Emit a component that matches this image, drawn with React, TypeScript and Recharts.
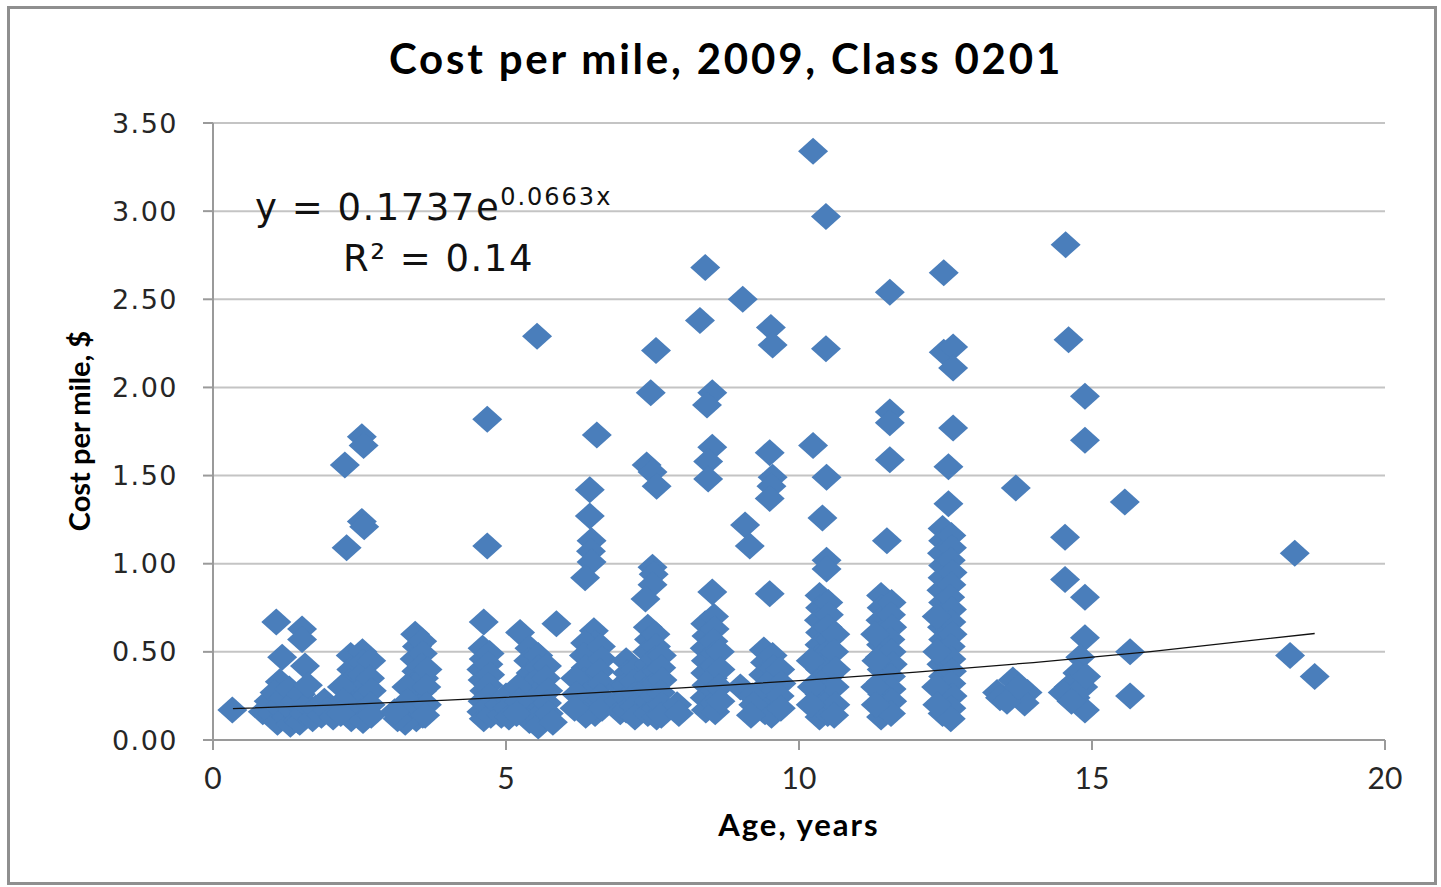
import React from 'react';
import { ScatterChart, Scatter, XAxis, YAxis, CartesianGrid } from 'recharts';

type Pt = [number, number];

// [age in years, cost per mile in $]
const ageUnder2: Pt[] = [
  [0.33, 0.17], [1.08, 0.67], [1.52, 0.63], [1.52, 0.57], [1.18, 0.47], [1.57, 0.42], [1.14, 0.33],
  [0.85, 0.16], [0.95, 0.22], [1.0, 0.15], [1.05, 0.27], [1.1, 0.1], [1.12, 0.19], [1.2, 0.24],
  [1.25, 0.13], [1.3, 0.29], [1.32, 0.09], [1.35, 0.17], [1.4, 0.22], [1.45, 0.11], [1.48, 0.1],
  [1.5, 0.26], [1.55, 0.15], [1.6, 0.2], [1.62, 0.31], [1.7, 0.12], [1.75, 0.18], [1.85, 0.14],
  [1.9, 0.22], [1.95, 0.17], [2.05, 0.13],
];

const age2to3: Pt[] = [
  [2.25, 1.56], [2.54, 1.72], [2.57, 1.67], [2.28, 1.09], [2.54, 1.24], [2.58, 1.21],
  [2.35, 0.48], [2.36, 0.4], [2.33, 0.33], [2.35, 0.26], [2.34, 0.19], [2.36, 0.12],
  [2.55, 0.5], [2.56, 0.44], [2.54, 0.37], [2.57, 0.3], [2.55, 0.23], [2.53, 0.16], [2.56, 0.11],
  [2.7, 0.45], [2.68, 0.35], [2.71, 0.28], [2.69, 0.2], [2.7, 0.14],
  [2.2, 0.3], [2.22, 0.22], [2.18, 0.15],
];

const age3to4: Pt[] = [
  [3.45, 0.6], [3.48, 0.53], [3.44, 0.46], [3.47, 0.39], [3.45, 0.32], [3.46, 0.25], [3.44, 0.18], [3.47, 0.12],
  [3.57, 0.56], [3.58, 0.49], [3.56, 0.42], [3.6, 0.35], [3.57, 0.28], [3.59, 0.21], [3.58, 0.14],
  [3.3, 0.3], [3.32, 0.22], [3.3, 0.15], [3.28, 0.1], [3.15, 0.12], [3.1, 0.16],
  [3.66, 0.4], [3.64, 0.3], [3.65, 0.2], [3.62, 0.14],
];

const age4to5: Pt[] = [
  [4.68, 1.82], [4.68, 1.1], [4.62, 0.67],
  [4.6, 0.52], [4.62, 0.46], [4.58, 0.4], [4.6, 0.34], [4.63, 0.28], [4.6, 0.22], [4.58, 0.16], [4.62, 0.12],
  [4.72, 0.49], [4.7, 0.43], [4.73, 0.37], [4.7, 0.31], [4.72, 0.25], [4.7, 0.19], [4.74, 0.14],
  [4.88, 0.2], [4.92, 0.14], [5.0, 0.25], [5.02, 0.18], [5.05, 0.13],
];

const age5to6: Pt[] = [
  [5.53, 2.29], [5.24, 0.61], [5.86, 0.66],
  [5.4, 0.52], [5.38, 0.45], [5.42, 0.38], [5.4, 0.31], [5.38, 0.24], [5.41, 0.17], [5.4, 0.11],
  [5.55, 0.48], [5.56, 0.41], [5.53, 0.34], [5.55, 0.27], [5.57, 0.2], [5.54, 0.13], [5.55, 0.08],
  [5.7, 0.42], [5.68, 0.35], [5.72, 0.28], [5.7, 0.21], [5.73, 0.15], [5.8, 0.1],
  [5.2, 0.3], [5.22, 0.22], [5.18, 0.15],
];

const age6to7: Pt[] = [
  [6.55, 1.73], [6.43, 1.42], [6.43, 1.27], [6.46, 1.13], [6.45, 1.07], [6.46, 1.01], [6.35, 0.92],
  [6.5, 0.62], [6.52, 0.55], [6.48, 0.49], [6.5, 0.42], [6.53, 0.35], [6.5, 0.28], [6.49, 0.21], [6.52, 0.15],
  [6.35, 0.55], [6.33, 0.48], [6.36, 0.41], [6.34, 0.34], [6.35, 0.27], [6.33, 0.2], [6.36, 0.14],
  [6.62, 0.53], [6.64, 0.46], [6.6, 0.39], [6.63, 0.32], [6.61, 0.25], [6.64, 0.18],
  [6.18, 0.35], [6.2, 0.26], [6.17, 0.18],
];

const age7to8: Pt[] = [
  [6.95, 0.3], [6.92, 0.22], [6.95, 0.16],
  [7.05, 0.45], [7.07, 0.38], [7.04, 0.31], [7.06, 0.24], [7.05, 0.17],
  [7.2, 0.4], [7.18, 0.33], [7.21, 0.26], [7.19, 0.19], [7.2, 0.13],
  [7.56, 2.21], [7.47, 1.97], [7.4, 1.56], [7.5, 1.52], [7.57, 1.44], [7.5, 0.98], [7.52, 0.94], [7.5, 0.88], [7.38, 0.8],
  [7.42, 0.64], [7.44, 0.57], [7.41, 0.5], [7.43, 0.43], [7.42, 0.36], [7.4, 0.29], [7.43, 0.22], [7.42, 0.15],
  [7.55, 0.6], [7.56, 0.53], [7.54, 0.46], [7.57, 0.39], [7.55, 0.32], [7.53, 0.25], [7.56, 0.18], [7.57, 0.13],
  [7.66, 0.48], [7.65, 0.41], [7.67, 0.34], [7.64, 0.27], [7.66, 0.2], [7.65, 0.14],
  [7.92, 0.2], [7.95, 0.15],
];

const age8to9: Pt[] = [
  [8.4, 2.68], [8.31, 2.38], [8.52, 1.97], [8.43, 1.9], [8.52, 1.66], [8.45, 1.58], [8.45, 1.48], [8.52, 0.84],
  [8.4, 0.66], [8.42, 0.59], [8.39, 0.52], [8.41, 0.45], [8.4, 0.38], [8.42, 0.31], [8.39, 0.24], [8.41, 0.17],
  [8.55, 0.7], [8.56, 0.63], [8.54, 0.56], [8.57, 0.49], [8.55, 0.42], [8.53, 0.35], [8.56, 0.28], [8.55, 0.21], [8.57, 0.16],
  [8.65, 0.5], [8.66, 0.4], [8.64, 0.3], [8.66, 0.22],
];

const age9to10: Pt[] = [
  [9.04, 2.5], [9.08, 1.22], [9.16, 1.1], [9.0, 0.3],
  [9.52, 2.34], [9.55, 2.24], [9.5, 1.63], [9.55, 1.49], [9.53, 1.44], [9.5, 1.37], [9.5, 0.83],
  [9.4, 0.51], [9.42, 0.44], [9.39, 0.37], [9.41, 0.3], [9.4, 0.23], [9.42, 0.16],
  [9.55, 0.48], [9.56, 0.41], [9.54, 0.34], [9.57, 0.27], [9.55, 0.2], [9.53, 0.14],
  [9.68, 0.4], [9.7, 0.32], [9.67, 0.25], [9.69, 0.18],
  [9.2, 0.25], [9.22, 0.2], [9.18, 0.14],
];

const age10to11: Pt[] = [
  [10.24, 3.34], [10.46, 2.97], [10.46, 2.22], [10.24, 1.67], [10.47, 1.49], [10.4, 1.26], [10.47, 1.02], [10.47, 0.97],
  [10.35, 0.82], [10.36, 0.75], [10.34, 0.68], [10.36, 0.61], [10.35, 0.54], [10.33, 0.47], [10.36, 0.4],
  [10.34, 0.33], [10.35, 0.26], [10.37, 0.19], [10.35, 0.13],
  [10.5, 0.78], [10.51, 0.71], [10.49, 0.64], [10.52, 0.57], [10.5, 0.5], [10.48, 0.43], [10.51, 0.36],
  [10.5, 0.29], [10.52, 0.22], [10.49, 0.15],
  [10.62, 0.6], [10.6, 0.5], [10.63, 0.4], [10.61, 0.3], [10.62, 0.2], [10.6, 0.14],
  [10.2, 0.45], [10.22, 0.3], [10.2, 0.2],
];

const age11to12: Pt[] = [
  [11.55, 2.54], [11.55, 1.86], [11.55, 1.8], [11.55, 1.59], [11.5, 1.13],
  [11.4, 0.82], [11.41, 0.75], [11.39, 0.68], [11.42, 0.61], [11.4, 0.54], [11.38, 0.47], [11.41, 0.4],
  [11.4, 0.33], [11.42, 0.26], [11.39, 0.19], [11.4, 0.13],
  [11.58, 0.78], [11.57, 0.71], [11.59, 0.64], [11.56, 0.57], [11.58, 0.5], [11.6, 0.43], [11.57, 0.36],
  [11.58, 0.29], [11.59, 0.22], [11.57, 0.15],
  [11.3, 0.6], [11.32, 0.45], [11.3, 0.3], [11.31, 0.2],
];

const age12to13: Pt[] = [
  [12.47, 2.65], [12.47, 2.2], [12.63, 2.23], [12.63, 2.11], [12.63, 1.77], [12.55, 1.55], [12.55, 1.34],
  [12.45, 1.2], [12.46, 1.13], [12.44, 1.06], [12.46, 0.99], [12.45, 0.92], [12.43, 0.85], [12.46, 0.78],
  [12.45, 0.71], [12.44, 0.64], [12.46, 0.57], [12.45, 0.5], [12.43, 0.43], [12.46, 0.36], [12.45, 0.29],
  [12.44, 0.22], [12.45, 0.15],
  [12.6, 1.16], [12.61, 1.09], [12.59, 1.02], [12.62, 0.95], [12.6, 0.88], [12.58, 0.81], [12.61, 0.74],
  [12.6, 0.67], [12.62, 0.6], [12.59, 0.53], [12.6, 0.46], [12.61, 0.39], [12.6, 0.32], [12.62, 0.25],
  [12.6, 0.18], [12.59, 0.12],
  [12.35, 0.7], [12.36, 0.5], [12.34, 0.3], [12.36, 0.2],
];

const age13up: Pt[] = [
  [13.38, 0.27], [13.43, 0.24], [13.65, 0.34], [13.9, 0.27], [13.85, 0.21], [13.55, 0.22], [13.75, 0.3], [13.7, 1.43],
  [14.55, 2.81], [14.6, 2.27], [14.88, 1.95], [14.88, 1.7], [14.54, 1.15], [14.54, 0.91], [14.88, 0.81],
  [14.88, 0.58], [14.8, 0.47], [14.75, 0.38], [14.6, 0.3], [14.5, 0.27], [14.72, 0.24], [14.88, 0.17],
  [14.85, 0.3], [14.9, 0.36], [14.65, 0.22],
  [15.56, 1.35], [15.65, 0.5], [15.65, 0.25],
  [18.46, 1.06], [18.38, 0.48], [18.8, 0.36],
];

// exponential trendline y = 0.1737e^(0.0663x), sampled across the data range
const trendAges = [0.34, 2, 4, 6, 8, 10, 12, 14, 16, 18.8];
const trendCost = [0.1777, 0.1983, 0.2265, 0.2586, 0.2952, 0.3371, 0.3849, 0.4394, 0.5018, 0.6041];

const xTicks = [0, 5, 10, 15, 20];
const yTicks = [0, 0.5, 1, 1.5, 2, 2.5, 3, 3.5];

const points = [
  ...ageUnder2, ...age2to3, ...age3to4, ...age4to5, ...age5to6, ...age6to7,
  ...age7to8, ...age8to9, ...age9to10, ...age10to11, ...age11to12, ...age12to13, ...age13up,
].map(([x, y]) => ({ x, y }));

const trend = trendAges.map((x, i) => ({ x, y: trendCost[i] }));

const Diamond = (props: any) => {
  const { cx, cy } = props;
  if (cx == null || cy == null) return <g />;
  return (
    <path
      d={`M${cx - 15},${cy} L${cx},${cy - 13.5} L${cx + 15},${cy} L${cx},${cy + 13.5} Z`}
      fill="#4A7EBB"
    />
  );
};

const W = 1441;
const H = 887;

export default function App() {
  return (
    <div style={{ position: 'absolute', left: 0, top: 0, width: W, height: H, background: '#fff' }}>
      <div
        style={{
          position: 'absolute',
          left: 7,
          top: 6,
          width: 1424,
          height: 873,
          border: '3px solid #8f8f8f',
        }}
      />
      <ScatterChart
        width={W}
        height={H}
        margin={{ top: 123, right: 56, bottom: 0, left: 0 }}
        style={{ position: 'absolute', left: 0, top: 0 }}
      >
        <CartesianGrid vertical={false} stroke="#C4C4C4" strokeWidth={2} />
        <XAxis
          type="number"
          dataKey="x"
          domain={[0, 20]}
          ticks={xTicks}
          interval={0}
          height={147}
          tickSize={10}
          tickMargin={18}
          axisLine={{ stroke: '#9A9A9A', strokeWidth: 2 }}
          tickLine={{ stroke: '#9A9A9A', strokeWidth: 2 }}
          tick={{ fontFamily: 'Lato', fontSize: 30, fill: '#262626' }}
        />
        <YAxis
          type="number"
          dataKey="y"
          domain={[0, 3.5]}
          ticks={yTicks}
          interval={0}
          width={213}
          tickSize={10}
          tickMargin={25}
          tickFormatter={(v: number) => v.toFixed(2)}
          axisLine={{ stroke: '#9A9A9A', strokeWidth: 2 }}
          tickLine={{ stroke: '#9A9A9A', strokeWidth: 2 }}
          tick={{ fontFamily: 'DejaVu Sans', fontSize: 27, fill: '#262626', letterSpacing: 1.5 }}
        />
        <Scatter data={points} shape={Diamond} isAnimationActive={false} />
        <Scatter
          data={trend}
          line={{ stroke: '#111', strokeWidth: 1.3 }}
          shape={() => <g />}
          isAnimationActive={false}
        />
      </ScatterChart>
      <svg
        width={W}
        height={H}
        style={{ position: 'absolute', left: 0, top: 0, pointerEvents: 'none' }}
      >
        <text x={726} y={74} textAnchor="middle" fontFamily="Lato" fontWeight={700} fontSize={42} letterSpacing={2.8} fill="#000">
          Cost per mile, 2009, Class 0201
        </text>
        <text x={799} y={836} textAnchor="middle" fontFamily="Lato" fontWeight={700} fontSize={31} letterSpacing={2} fill="#000">
          Age, years
        </text>
        <text
          x={90}
          y={431}
          textAnchor="middle"
          transform="rotate(-90 90 431)"
          fontFamily="Lato"
          fontWeight={700}
          fontSize={29}
          fill="#000"
        >
          Cost per mile, $
        </text>
        <text x={255} y={220} fontFamily="DejaVu Sans" fontSize={37} letterSpacing={1.5} fill="#111">
          y = 0.1737e
          <tspan fontSize={24} letterSpacing={2} dy={-15}>0.0663x</tspan>
        </text>
        <text x={343} y={271} fontFamily="DejaVu Sans" fontSize={37} letterSpacing={1.5} fill="#111">
          R² = 0.14
        </text>
      </svg>
    </div>
  );
}
